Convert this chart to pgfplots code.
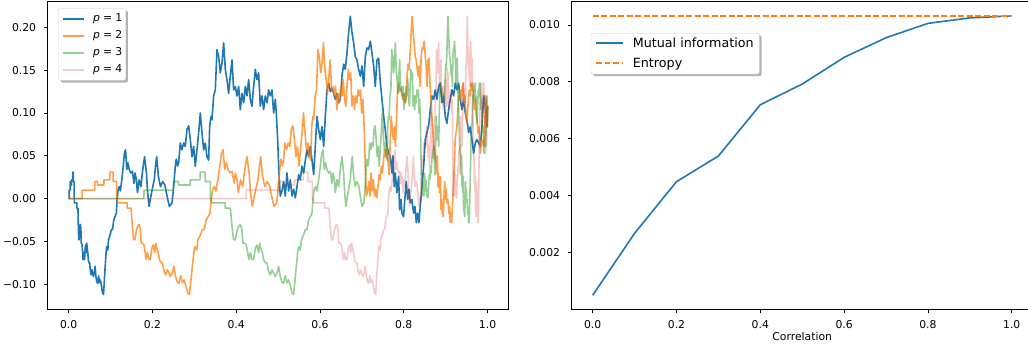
\documentclass[border=0pt]{standalone}
\usepackage{pgfplots}
\pgfplotsset{compat=1.18}
\usepackage{pgfplotstable}
\usetikzlibrary{shadows}
\usepackage{fontspec}
\setmainfont{DejaVu Sans}
\definecolor{c1}{HTML}{1F77B4}
\definecolor{c2}{HTML}{FF7F0E}
\definecolor{c3}{HTML}{2CA02C}
\definecolor{c4}{HTML}{D62728}
\makeatletter
\tikzset{noshadow/.code={\def\tikz@preactions{}}}
\makeatother
\newcommand{\tfont}{\fontsize{10.8}{13}\selectfont}
\newcommand{\lfont}{\fontsize{12.7}{15}\selectfont}
\newcommand{\pe}[1]{{\itshape p}\hspace{0.3em}=\hspace{0.3em}#1}

% p = 1 random walk, indexed by t
\pgfplotstableread{
t y
0 0
0.00104 0
0.00105 0.010
0.0039 0.010
0.00391 0.020
0.0047 0.020
0.00471 0.016
0.0071 0.016
0.00711 0.022
0.0097 0.022
0.00971 0.031
0.0113 0.031
0.01131 0.020
0.0131 0.020
0.01311 0.0
0.0135 0.0
0.01351 -0.005
0.0195 -0.005
0.01951 -0.011
0.0222 -0.011
0.0231 -0.032
0.02407 -0.048
0.02504 -0.048
0.02606 -0.038
0.02712 -0.032
0.02820 -0.030
0.02929 -0.036
0.02998 -0.052
0.03091 -0.052
0.03235 -0.054
0.03334 -0.063
0.03431 -0.071
0.03535 -0.063
0.03667 -0.071
0.03803 -0.071
0.03943 -0.058
0.04082 -0.054
0.04230 -0.063
0.04320 -0.052
0.04442 -0.058
0.04568 -0.063
0.04695 -0.071
0.04855 -0.075
0.05022 -0.075
0.05194 -0.085
0.05371 -0.089
0.05551 -0.083
0.05732 -0.087
0.05922 -0.091
0.06116 -0.087
0.06315 -0.079
0.06514 -0.091
0.06723 -0.097
0.06937 -0.099
0.07155 -0.090
0.07379 -0.098
0.07609 -0.095
0.07843 -0.102
0.08077 -0.110
0.08322 -0.112
0.08573 -0.091
0.08726 -0.079
0.08933 -0.063
0.09091 -0.056
0.09352 -0.060
0.09515 -0.048
0.09792 -0.044
0.10018 -0.040
0.10190 -0.036
0.10475 -0.036
0.10773 -0.025
0.11076 -0.021
0.11387 -0.017
0.11576 0.000
0.11825 0.011
0.12085 0.014
0.12349 0.009
0.12686 0.022
0.13029 0.038
0.13309 0.053
0.13585 0.057
0.13873 0.034
0.14166 0.042
0.14464 0.034
0.14843 0.030
0.15219 0.032
0.15613 0.018
0.15853 0.030
0.16177 0.022
0.16423 0.007
0.16830 0.022
0.17254 0.014
0.17686 0.034
0.18127 0.049
0.18575 0.030
0.18849 0.007
0.19206 -0.009
0.19486 -0.001
0.19959 0.011
0.20441 0.022
0.20735 0.038
0.21019 0.049
0.21419 0.026
0.21928 0.014
0.22445 0.020
0.22971 0.016
0.23493 0.003
0.24037 -0.009
0.2467 -0.005
0.2507 0.014
0.2546 0.038
0.2570 0.046
0.2602 0.038
0.2626 0.042
0.2666 0.065
0.2705 0.057
0.2745 0.065
0.2785 0.061
0.2825 0.081
0.2865 0.085
0.2904 0.069
0.2944 0.049
0.2984 0.061
0.3024 0.038
0.3063 0.057
0.3103 0.077
0.3143 0.100
0.3183 0.077
0.3223 0.057
0.3262 0.065
0.3302 0.049
0.3342 0.045
0.3366 0.084
0.3398 0.096
0.3421 0.092
0.3461 0.120
0.3501 0.127
0.3541 0.174
0.3581 0.166
0.3620 0.147
0.3660 0.158
0.3700 0.182
0.3740 0.151
0.3779 0.139
0.3819 0.123
0.3859 0.143
0.3899 0.162
0.3939 0.127
0.3978 0.131
0.4018 0.120
0.4058 0.131
0.4098 0.104
0.4137 0.123
0.4177 0.112
0.4217 0.131
0.4257 0.120
0.4297 0.139
0.4336 0.116
0.4376 0.108
0.4416 0.131
0.4456 0.151
0.4495 0.139
0.4535 0.147
0.4575 0.108
0.4615 0.120
0.4655 0.104
0.4694 0.120
0.4734 0.112
0.4774 0.127
0.4814 0.120
0.4854 0.127
0.4893 0.100
0.4933 0.116
0.4957 0.100
0.4989 0.069
0.5020 0.030
0.5052 0.003
0.5093 0.009
0.5133 0.020
0.5172 0.003
0.5212 0.030
0.5252 0.009
0.5292 0.022
0.5331 0.003
0.5371 0.011
0.5411 0.001
0.5451 0.014
0.5491 0.028
0.5530 0.022
0.5570 0.038
0.5610 0.030
0.5650 0.045
0.5689 0.057
0.5729 0.049
0.5769 0.061
0.5809 0.045
0.5849 0.028
0.5888 0.061
0.5928 0.096
0.5968 0.081
0.6008 0.069
0.6047 0.084
0.6087 0.061
0.6127 0.096
0.6167 0.127
0.6207 0.135
0.6246 0.125
0.6286 0.129
0.6326 0.123
0.6366 0.116
0.6405 0.123
0.6445 0.112
0.6485 0.116
0.6525 0.143
0.6565 0.157
0.6604 0.151
0.6644 0.170
0.6684 0.194
0.6724 0.213
0.6764 0.194
0.6803 0.182
0.6843 0.166
0.6883 0.162
0.6923 0.151
0.6963 0.143
0.7002 0.155
0.7042 0.131
0.7082 0.166
0.7121 0.176
0.7161 0.174
0.7201 0.184
0.7241 0.170
0.7281 0.155
0.7320 0.131
0.7360 0.162
0.7400 0.164
0.7440 0.135
0.7480 0.116
0.7520 0.096
0.7559 0.080
0.7599 0.061
0.7639 0.053
0.7679 0.049
0.7718 0.030
0.7742 0.050
0.7773 0.014
0.7797 0.030
0.7837 0.007
0.7877 0.026
0.7901 -0.013
0.7933 -0.001
0.7956 -0.017
0.7996 -0.021
0.8036 0.007
0.8060 0.020
0.8092 -0.001
0.8124 0.011
0.8155 -0.005
0.8195 -0.001
0.8235 -0.017
0.8267 -0.009
0.8299 -0.028
0.8330 -0.017
0.8362 -0.028
0.8394 -0.009
0.8434 0.014
0.8474 0.038
0.8513 0.069
0.8553 0.077
0.8593 0.085
0.8633 0.104
0.8672 0.120
0.8712 0.116
0.8752 0.127
0.8792 0.116
0.8832 0.131
0.8871 0.135
0.8911 0.112
0.8951 0.120
0.8991 0.096
0.9030 0.088
0.9070 0.104
0.9110 0.116
0.9150 0.127
0.9190 0.120
0.9229 0.135
0.9269 0.127
0.9309 0.135
0.9349 0.116
0.9388 0.104
0.9428 0.116
0.9468 0.100
0.9508 0.092
0.9548 0.077
0.9587 0.084
0.9627 0.069
0.9667 0.053
0.9707 0.065
0.9746 0.069
0.9786 0.065
0.9826 0.061
0.9866 0.084
0.9906 0.120
0.9945 0.108
0.9985 0.084
1.0000 0.108
}\pone

\pgfplotsset{
  mpl/.style={
    scale only axis, anchor=south west,
    tick align=outside, tick pos=left, major tick length=3.8pt,
    every tick/.style={black, line width=0.85pt},
    axis line style={line width=0.85pt},
    tick label style={font=\tfont, inner sep=0pt},
    xticklabel style={yshift=-7.6pt},
    yticklabel style={xshift=-7.6pt},
    scaled x ticks=false, scaled y ticks=false,
    legend cell align=left,
  }
}

\begin{document}
\begin{tikzpicture}
\useasboundingbox (0,0) rectangle (1028pt,349pt);
\begin{axis}[mpl,
  at={(47.7pt,39.7pt)}, width=460.8pt, height=307.6pt,
  xmin=-0.05, xmax=1.05, ymin=-0.1292, ymax=0.2300,
  xtick={0,0.2,0.4,0.6,0.8,1}, xticklabels={0.0,0.2,0.4,0.6,0.8,1.0},
  ytick={-0.1,-0.05,0,0.05,0.1,0.15,0.2},
  yticklabels={−0.10,−0.05,0.00,0.05,0.10,0.15,0.20},
  legend style={at={(0.023,0.9785)}, anchor=north west,
    draw=black!20, fill=white, rounded corners=2pt,
    drop shadow={shadow xshift=2.2pt, shadow yshift=-2.2pt, fill=black!60, opacity=0.5},
    font=\tfont, inner xsep=3.4pt, inner ysep=5pt, row sep=6.6pt, column sep=8pt,
    nodes={inner sep=0pt, text height=8pt, text depth=2.5pt}},
]
\addplot[c1, line width=1.6pt, line join=round,
  legend image code/.code={\draw[noshadow, draw=c1, line width=1.6pt, solid] (0pt,0pt) -- (21.6pt,0pt);}] table[x=t, y=y]{\pone};
\addlegendentry{\pe{1}}
\addplot[c2, line width=1.6pt, line join=round, draw opacity=0.75,
  legend image code/.code={\draw[noshadow, draw=c2, line width=1.6pt, solid, draw opacity=0.75] (0pt,0pt) -- (21.6pt,0pt);}] table[x expr={sqrt(\thisrow{t})}, y=y]{\pone};
\addlegendentry{\pe{2}}
\addplot[c3, line width=1.6pt, line join=round, draw opacity=0.5,
  legend image code/.code={\draw[noshadow, draw=c3, line width=1.6pt, solid, draw opacity=0.5] (0pt,0pt) -- (21.6pt,0pt);}] table[x expr={sqrt(sqrt(\thisrow{t}))}, y=y]{\pone};
\addlegendentry{\pe{3}}
\addplot[c4, line width=1.6pt, line join=round, draw opacity=0.25,
  legend image code/.code={\draw[noshadow, draw=c4, line width=1.6pt, solid, draw opacity=0.25] (0pt,0pt) -- (21.6pt,0pt);}] table[x expr={sqrt(sqrt(sqrt(\thisrow{t})))}, y=y]{\pone};
\addlegendentry{\pe{4}}
\end{axis}

\begin{axis}[mpl,
  at={(571.7pt,39.7pt)}, width=461pt, height=307.6pt,
  xmin=-0.05, xmax=1.05, ymin=-0.000007, ymax=0.01082,
  xtick={0,0.2,0.4,0.6,0.8,1}, xticklabels={0.0,0.2,0.4,0.6,0.8,1.0},
  ytick={0.002,0.004,0.006,0.008,0.010},
  yticklabels={0.002,0.004,0.006,0.008,0.010},
  xlabel={Correlation}, xlabel style={font=\tfont, inner sep=0pt, yshift=-3pt},
]
\addplot[c1, line width=1.6pt, line join=round] coordinates {
(0,0.000485) (0.1,0.002667) (0.2,0.004484) (0.3,0.005388) (0.4,0.007193)
(0.5,0.007921) (0.6,0.008861) (0.7,0.009551) (0.8,0.010057) (0.9,0.01025) (1.0,0.01032)};
\addplot[c2, line width=1.6pt, dash pattern=on 5.9pt off 2.6pt]
  coordinates {(0,0.010314) (1,0.010314)};
\end{axis}
% legend of the right panel
\fill[black!60, opacity=0.5, rounded corners=2pt] (593.2pt,272.8pt) rectangle (761.5pt,313.5pt);
\filldraw[fill=white, draw=black!20, rounded corners=2pt] (591pt,275pt) rectangle (759.3pt,315.7pt);
\draw[draw=c1, line width=1.6pt] (596pt,305.7pt) -- (622.7pt,305.7pt);
\draw[draw=c2, line width=1.6pt, dash pattern=on 5.9pt off 2.6pt] (596pt,286.3pt) -- (622.7pt,286.3pt);
\node[anchor=base west, inner sep=0pt, font=\lfont] at (632.7pt,301.1pt) {Mutual information};
\node[anchor=base west, inner sep=0pt, font=\lfont] at (632.7pt,281.7pt) {Entropy};
\end{tikzpicture}
\end{document}
